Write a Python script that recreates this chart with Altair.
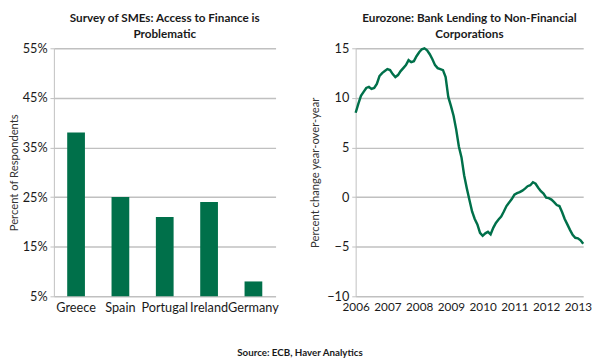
import altair as alt
import pandas as pd

# Left panel: survey of SMEs
countries = ["Greece", "Spain", "Portugal", "Ireland", "Germany"]
pct_problematic = [38, 25, 21, 24, 8]

# Right panel: Eurozone bank lending to NFCs, monthly Jan 2006 - Mar 2013 (% y/y)
lending_yoy = [
    8.5, 9.4, 10.2, 10.6, 11.0, 11.1, 10.9, 11.0, 11.4, 12.2, 12.5, 12.7,
    12.9, 12.8, 12.4, 12.1, 12.3, 12.7, 13.0, 13.3, 13.8, 13.6, 13.7, 14.2,
    14.6, 14.9, 15.0, 14.8, 14.4, 13.9, 13.3, 13.0, 12.9, 12.8, 12.1, 10.1,
    9.2, 8.2, 6.8, 5.1, 4.0, 2.2, 0.9, -0.3, -1.45, -2.2, -2.75, -3.6,
    -3.9, -3.65, -3.5, -3.75, -3.1, -2.6, -2.25, -1.95, -1.45, -0.9, -0.55, -0.2,
    0.25, 0.4, 0.5, 0.65, 0.85, 1.1, 1.2, 1.5, 1.35, 0.95, 0.6, 0.35,
    -0.05, -0.1, -0.25, -0.5, -0.8, -0.9, -1.5, -2.2, -2.75, -3.3, -3.8, -4.1,
    -4.15, -4.35, -4.7,
]
start_year = 2006
year_ticks = [2006, 2007, 2008, 2009, 2010, 2011, 2012, 2013]
left_ticks = [5, 15, 25, 35, 45, 55]
right_ticks = [-10, -5, 0, 5, 10, 15]

GREEN = "#00704A"
GRID = "#C0C0C0"
FONT = "Lato"
TXT = "#1a1a1a"

bar_df = pd.DataFrame({"country": countries, "pct": pct_problematic})
line_df = pd.DataFrame({
    "t": [start_year + i / 12 for i in range(len(lending_yoy))],
    "v": lending_yoy,
})

common_axis = dict(
    labelFont=FONT, labelColor=TXT, titleFont=FONT, titleColor="#333333",
    titleFontWeight="normal", gridColor=GRID, domainColor=GRID, tickColor=GRID,
)

left = alt.Chart(bar_df).mark_bar(color=GREEN).encode(
    x=alt.X("country:N", sort=countries, title=None,
            scale=alt.Scale(paddingInner=0.6, paddingOuter=0.3),
            axis=alt.Axis(labelAngle=0, ticks=False, domain=False, labelFontSize=13,
                          labelPadding=6, **common_axis)),
    y=alt.Y("pct:Q", title="Percent of Respondents",
            scale=alt.Scale(domain=[5, 55], nice=False, zero=False),
            axis=alt.Axis(values=left_ticks, labelExpr="datum.value + '%'",
                          labelFontSize=13, titleFontSize=11.5, tickSize=4,
                          labelPadding=3, titlePadding=3, **common_axis)),
    y2=alt.datum(5),
).properties(
    width=227, height=254,
    title=alt.TitleParams(["Survey of SMEs: Access to Finance is", "Problematic"],
                          font=FONT, fontSize=12, fontWeight="bold", color=TXT,
                          lineHeight=16, offset=-3, dy=-5, anchor="middle"),
)

right = alt.Chart(line_df).mark_line(color=GREEN, strokeWidth=2.5).encode(
    x=alt.X("t:Q", title=None,
            scale=alt.Scale(domain=[2006, 2006 + 86 / 12], nice=False, zero=False),
            axis=alt.Axis(values=year_ticks, format="d", grid=False, ticks=False,
                          domain=False, labelFontSize=12, labelPadding=6,
                          labelOverlap=False, labelFlush=False, **common_axis)),
    y=alt.Y("v:Q", title="Percent change year-over-year",
            scale=alt.Scale(domain=[-10, 15], nice=False, zero=False),
            axis=alt.Axis(values=right_ticks, labelFontSize=13, titleFontSize=11.5,
                          tickSize=4, labelPadding=3, titlePadding=6, **common_axis)),
).properties(
    width=233, height=254,
    title=alt.TitleParams(["Eurozone: Bank Lending to Non-Financial", "Corporations"],
                          font=FONT, fontSize=12, fontWeight="bold", color=TXT,
                          lineHeight=16, offset=-3, dy=-5, anchor="middle"),
)

chart = alt.hconcat(left, right, spacing=32).properties(
    padding={"left": 0, "top": 0, "right": 0, "bottom": 0},
    title=alt.TitleParams("Source: ECB, Haver Analytics", orient="bottom",
                          anchor="middle", font=FONT, fontSize=10,
                          fontWeight="bold", color=TXT, offset=34),
).configure_view(stroke=None).configure_axis(gridWidth=1.5)

chart.save("out.html", embed_options={"renderer": "svg", "actions": False})
